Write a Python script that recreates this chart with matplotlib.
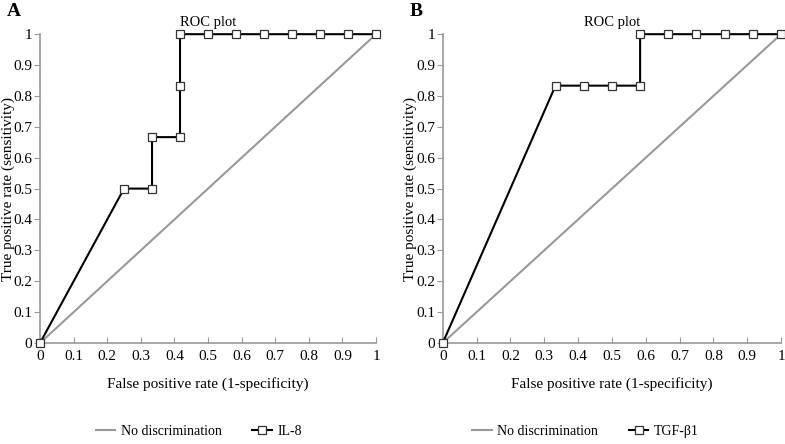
import matplotlib
matplotlib.use("Agg")
import matplotlib.pyplot as plt
from matplotlib.lines import Line2D

plt.rcParams['font.family'] = ['Liberation Serif', 'DejaVu Serif']

il8_fpr = [0, 3/12, 4/12, 4/12, 5/12, 5/12, 5/12, 6/12, 7/12, 8/12, 9/12, 10/12, 11/12, 1]
il8_tpr = [0, 0.5, 0.5, 4/6, 4/6, 5/6, 1, 1, 1, 1, 1, 1, 1, 1]
tgf_fpr = [0, 4/12, 5/12, 6/12, 7/12, 7/12, 8/12, 9/12, 10/12, 11/12, 1]
tgf_tpr = [0, 5/6, 5/6, 5/6, 5/6, 1, 1, 1, 1, 1, 1]
diag = [0, 1]
ticks = [0, 0.1, 0.2, 0.3, 0.4, 0.5, 0.6, 0.7, 0.8, 0.9, 1]
tick_labels = ['0', '0.1', '0.2', '0.3', '0.4', '0.5', '0.6', '0.7', '0.8', '0.9', '1']

fig = plt.figure(figsize=(7.85, 4.44), dpi=100)
gray = '#999999'

panels = [
    ('A', [0.051, 0.2275, 0.428, 0.6955], il8_fpr, il8_tpr, 'IL-8', 0.253),
    ('B', [0.564, 0.2275, 0.431, 0.6955], tgf_fpr, tgf_tpr, 'TGF-β1', 0.746),
]
for label, rect, xs, ys, name, legx in panels:
    ax = fig.add_axes(rect)
    ax.plot(diag, diag, color=gray, lw=1.5, zorder=2)
    ax.plot(xs, ys, color='black', lw=1.5, marker='s', ms=6,
            mfc='white', mec='#333333', mew=0.9, zorder=3, clip_on=False)
    ax.set_xlim(0, 1)
    ax.set_ylim(0, 1)
    for s in ['top', 'right']:
        ax.spines[s].set_visible(False)
    for s in ['left', 'bottom']:
        ax.spines[s].set_color(gray)
        ax.spines[s].set_linewidth(1.2)
    ax.set_xticks(ticks)
    ax.set_xticklabels(tick_labels)
    ax.set_yticks(ticks)
    ax.set_yticklabels(tick_labels)
    ax.tick_params(axis='x', direction='in', length=4, color=gray, labelsize=11, pad=5)
    ax.tick_params(axis='y', direction='out', length=4, color=gray, labelsize=11, pad=1.5)
    ax.set_xlabel('False positive rate (1-specificity)', fontsize=11, labelpad=10)
    ax.set_ylabel('True positive rate (sensitivity)', fontsize=11)
    ax.yaxis.set_label_coords(-0.076, 0.5)
    ax.set_title('ROC plot', fontsize=10.5, pad=6)
    fig.text(rect[0] - 0.042, 0.975, label, fontsize=14, fontweight='bold', va='center', ha='left')
    handles = [Line2D([], [], color=gray, lw=1.5),
               Line2D([], [], color='black', lw=1.5, marker='s', ms=6,
                      mfc='white', mec='#333333', mew=0.9)]
    fig.legend(handles, ['No discrimination', name], loc='center',
               bbox_to_anchor=(legx, 0.029), ncol=2, frameon=False,
               fontsize=10, handlelength=1.4, columnspacing=2.2, handletextpad=0.4)

fig.savefig('out.png', dpi=100)
